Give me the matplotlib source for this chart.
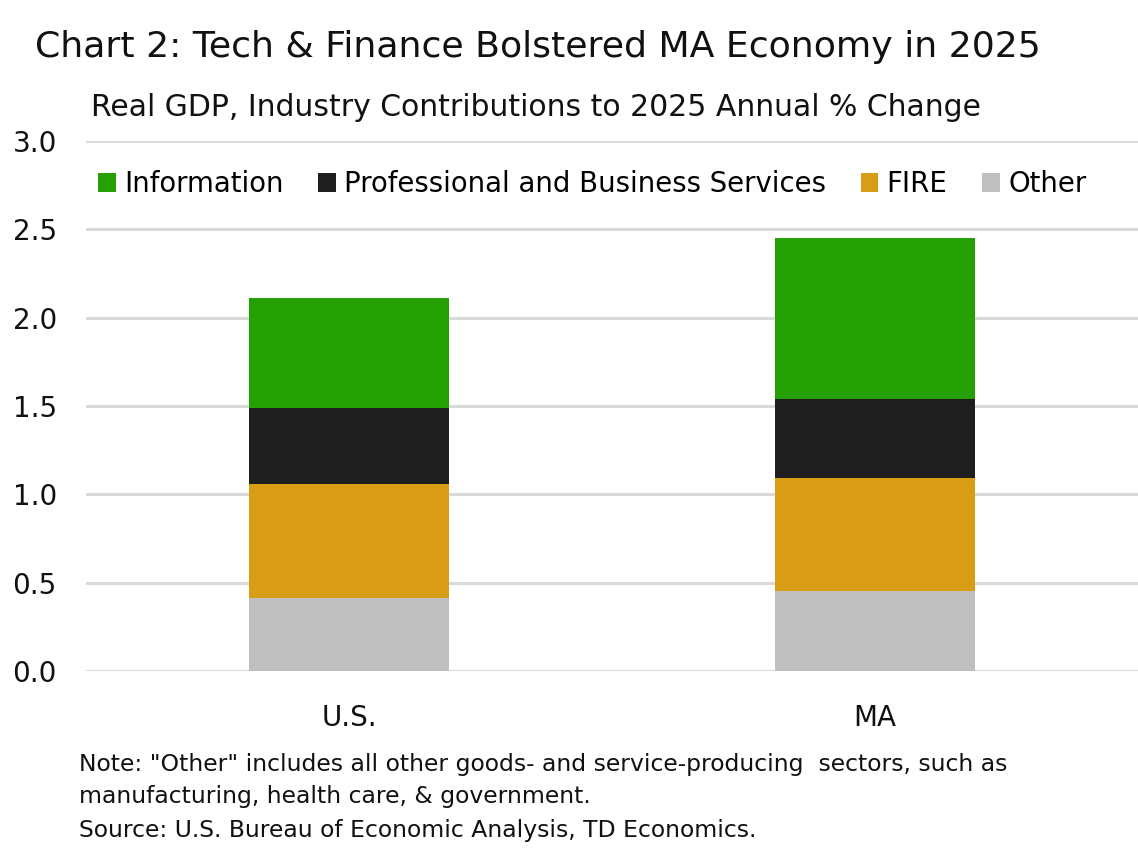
import numpy as np
import matplotlib
matplotlib.use("Agg")
import matplotlib.pyplot as plt

plt.rcParams['font.family'] = ['DejaVu Sans']

# data
regions = ["U.S.", "MA"]
sectors = ["Information", "Professional and Business Services", "FIRE", "Other"]
other = [0.415, 0.455]
fire = [0.645, 0.64]
prof_bus = [0.43, 0.445]
information = [0.62, 0.91]

colors = {"Information": "#24a005", "Professional and Business Services": "#1e1e1e",
          "FIRE": "#d99d15", "Other": "#bfbfbf"}

fig = plt.figure(figsize=(11.38, 8.5), dpi=100)
ax = fig.add_axes([86 / 1138, 1 - 671 / 850, 1052 / 1138, 530 / 850])

x = np.arange(len(regions))
width = 0.382
bottom = np.zeros(len(regions))
stack = [("Other", other), ("FIRE", fire),
         ("Professional and Business Services", prof_bus), ("Information", information)]
bars = {}
for name, vals in stack:
    bars[name] = ax.bar(x, vals, width, bottom=bottom, color=colors[name], zorder=3)
    bottom = bottom + np.array(vals)

ax.set_xlim(-0.5, 1.5)
ax.set_ylim(0, 3.0)
ax.set_yticks(np.arange(0, 3.01, 0.5))
ax.set_yticklabels(["%.1f" % v for v in np.arange(0, 3.01, 0.5)])
ax.set_xticks(x)
ax.set_xticklabels(regions)
ax.grid(axis='y', color='#d9d9d9', linewidth=2.2, zorder=0)
for s in ax.spines.values():
    s.set_visible(False)
ax.tick_params(axis='both', length=0, labelsize=20, colors='#111111')
ax.tick_params(axis='y', pad=21)
ax.tick_params(axis='x', pad=24)

leg = fig.legend([bars[n] for n in sectors], sectors, loc='center left',
                 bbox_to_anchor=(98 / 1138, 1 - 184 / 850), ncol=4, frameon=False,
                 fontsize=19.8, handlelength=0.65, handleheight=0.65, handletextpad=0.3,
                 columnspacing=1.25, borderaxespad=0, borderpad=0)

fig.text(35 / 1138, 1 - 47 / 850, "Chart 2: Tech & Finance Bolstered MA Economy in 2025",
         fontsize=26.1, va='center', ha='left', color='#111111')
fig.text(91 / 1138, 1 - 107 / 850, "Real GDP, Industry Contributions to 2025 Annual % Change",
         fontsize=21.5, va='center', ha='left', color='#111111')
notes = ['Note: "Other" includes all other goods- and service-producing  sectors, such as',
         'manufacturing, health care, & government.',
         'Source: U.S. Bureau of Economic Analysis, TD Economics.']
for i, line in enumerate(notes):
    fig.text(79 / 1138, 1 - (764 + 33 * i) / 850, line, fontsize=16.9,
             va='center', ha='left', color='#111111')

fig.savefig("out.png", dpi=100)
